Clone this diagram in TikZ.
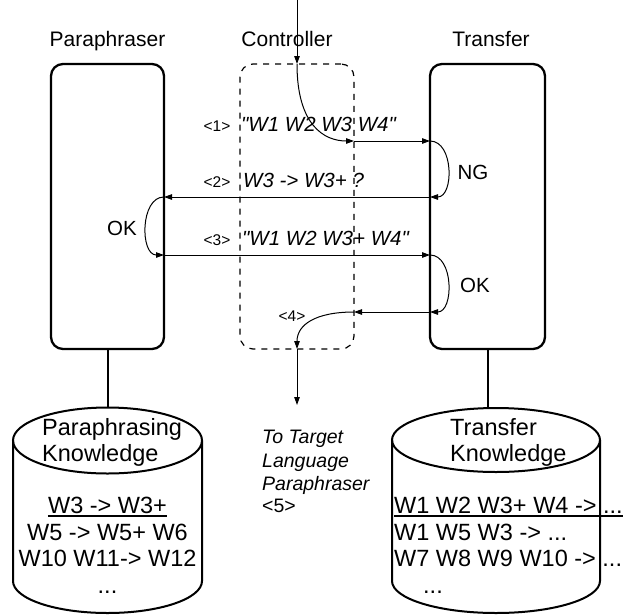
\documentclass[tikz,border=0pt]{standalone}
\usepackage{fontspec}
\setmainfont{Liberation Sans}[Ligatures=TeXOff]
\usetikzlibrary{arrows.meta}
\begin{document}
\begin{tikzpicture}[x=1pt,y=-1pt,
  box/.style={draw,line width=2.3pt,rounded corners=12pt,inner sep=0pt,outer sep=0pt},
  ctrlbox/.style={draw,line width=1.2pt,dash pattern=on 6pt off 6pt,rounded corners=13pt,inner sep=0pt,outer sep=0pt},
  arr/.style={line width=1pt,-{Triangle[length=8pt,width=5.5pt]}},
  cyl/.style={line width=2pt},
  link/.style={line width=2pt},
  hdr/.style={inner sep=0pt,anchor=base,font=\fontsize{21}{25}\selectfont},
  tagl/.style={inner sep=0pt,anchor=base,font=\fontsize{15.5}{18}\selectfont},
  msg/.style={inner sep=0pt,anchor=base west,font=\fontsize{20.5}{24}\selectfont\itshape},
  verdict/.style={inner sep=0pt,anchor=base,font=\fontsize{20.5}{24}\selectfont},
  dest/.style={inner sep=0pt,anchor=base west,font=\fontsize{19.5}{23}\selectfont\itshape},
  kb/.style={inner sep=0pt,font=\fontsize{23.5}{26}\selectfont},
]
\fill[white] (0,0) rectangle (624,614);
\useasboundingbox (0,0) rectangle (624,614);

% headers
\node[hdr] (lp) at (107.5,46) {Paraphraser};
\node[hdr] (lc) at (287,46) {Controller};
\node[hdr] (lt) at (491,46) {Transfer};

% boxes
\node[box,minimum width=113pt,minimum height=285pt] (para) at (107.5,206.5) {};
\node[box,minimum width=115pt,minimum height=285pt] (trans) at (487.5,206.5) {};
\node[ctrlbox,minimum width=114pt,minimum height=285pt] (ctrl) at (297,206.5) {};

% rows
\coordinate (r1) at (0,141);
\coordinate (r2) at (0,197);
\coordinate (r3) at (0,255);
\coordinate (r4) at (0,312);
\coordinate (in) at (297,0);
\coordinate (out) at (297,405);

% arrows
\draw[arr] (in) -- (ctrl.north);
\draw[arr] (ctrl.north) .. controls +(0,61) and +(-30,0) .. (ctrl.east |- r1);
\draw[arr] (ctrl.east |- r1) -- (trans.west |- r1);
\draw[arr] (trans.west |- r1) .. controls +(24,0) and +(24,0) .. (trans.west |- r2);
\draw[arr] (trans.west |- r2) -- (para.east |- r2);
\draw[arr] (para.east |- r2) .. controls +(-24,0) and +(-24,0) .. (para.east |- r3);
\draw[arr] (para.east |- r3) -- (trans.west |- r3);
\draw[arr] (trans.west |- r3) .. controls +(24,0) and +(24,0) .. (trans.west |- r4);
\draw[arr] (trans.west |- r4) -- (ctrl.east |- r4);
\draw[arr] (ctrl.east |- r4) .. controls +(-39,0) and +(0,-24) .. (ctrl.south);
\draw[arr] (ctrl.south) -- (out);

% message labels
\node[tagl] (n1) at (217,131) {<1>};
\node[msg] (m1) at (241,131) {"W1 W2 W3 W4"};
\node[tagl] (n2) at (217,187) {<2>};
\node[msg] (m2) at (243,187) {W3 -> W3+ ?};
\node[tagl] (n3) at (217,245) {<3>};
\node[msg] (m3) at (242,245) {"W1 W2 W3+ W4"};
\node[tagl] (n4) at (292,321) {<4>};
\node[verdict] (ng) at (473,179) {NG};
\node[verdict] (okl) at (122,235) {OK};
\node[verdict] (okr) at (475,292) {OK};

% destination text
\node[dest] (d1) at (262,443) {To Target};
\node[dest] (d2) at (262,467) {Language};
\node[dest] (d3) at (262,490) {Paraphraser};
\node[inner sep=0pt,anchor=base west,font=\fontsize{19.5}{23}\selectfont] (d4) at (262,512) {<5>};

% cylinders
\draw[cyl] (13,440.5) -- (13,581) arc[start angle=180,end angle=0,x radius=94.5,y radius=32] -- (202,440.5);
\draw[cyl] (107.5,440.5) ellipse[x radius=94.5,y radius=33];
\draw[cyl] (392,440) -- (392,581) arc[start angle=180,end angle=0,x radius=104,y radius=32] -- (600,440);
\draw[cyl] (496,440) ellipse[x radius=104,y radius=32];

\coordinate (ptop) at (107.5,407.5);
\coordinate (ttop) at (487.5,408);
\draw[link] (para.south) -- (ptop);
\draw[link] (trans.south) -- (ttop);

% paraphrasing knowledge
\node[kb,anchor=base west] (pk1) at (42,435) {Paraphrasing};
\node[kb,anchor=base west] (pk2) at (42,461) {Knowledge};
\node[kb,anchor=base] (pr1) at (107.5,513.5) {W3 -> W3+};
\node[kb,anchor=base] (pr2) at (107.5,540) {W5 -> W5+ W6};
\node[kb,anchor=base] (pr3) at (107.5,566.5) {W10 W11-> W12};
\node[kb,anchor=base] (pr4) at (107.5,593) {...};
\draw[line width=1.2pt] ([yshift=-2.5pt]pr1.base west) -- ([yshift=-2.5pt]pr1.base east);

% transfer knowledge
\node[kb,anchor=base west] (tk1) at (450,435) {Transfer};
\node[kb,anchor=base west] (tk2) at (450,461) {Knowledge};
\node[kb,anchor=base west] (tr1) at (394,513.5) {W1 W2 W3+ W4 -> ...};
\node[kb,anchor=base west] (tr2) at (394,540) {W1 W5 W3 -> ...};
\node[kb,anchor=base west] (tr3) at (394,566.5) {W7 W8 W9 W10 -> ...};
\node[kb,anchor=base west] (tr4) at (423,593) {...};
\draw[line width=1.2pt] ([yshift=-2.5pt]tr1.base west) -- ([yshift=-2.5pt]tr1.base east);
\end{tikzpicture}
\end{document}
